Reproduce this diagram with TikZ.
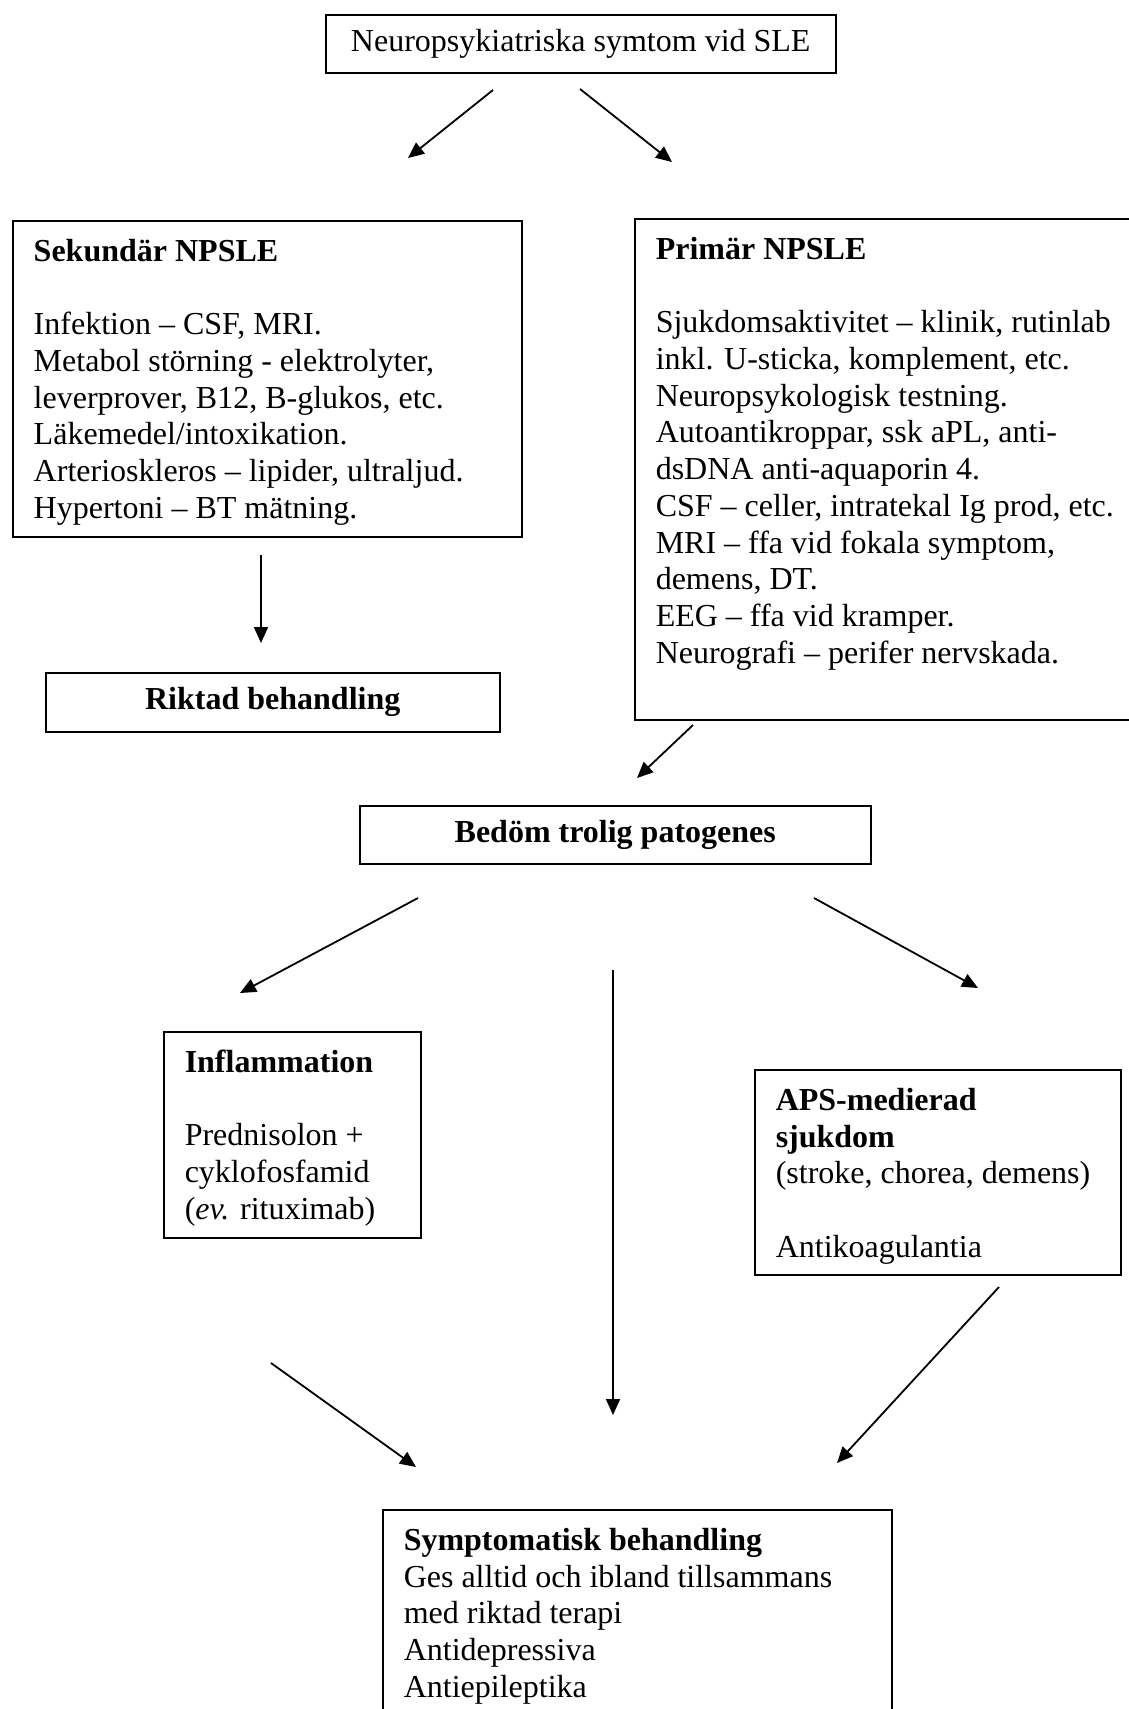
\documentclass[tikz,border=0pt]{standalone}
\usepackage{fontspec}
\setmainfont{Liberation Serif}
\usetikzlibrary{arrows.meta}
\newcommand{\boxtxt}[3]{\parbox[t][#2][t]{#1}{\strut #3}}
\tikzset{
  box/.style ={draw,line width=0.75pt,anchor=north west,inner xsep=10.5pt,inner ysep=7.5pt,font=\fontsize{16pt}{18.35pt}\selectfont},
  cbox/.style={draw,line width=0.75pt,anchor=north west,inner sep=0pt,font=\fontsize{16pt}{18.35pt}\selectfont},
  ar/.style  ={-{Triangle[length=8pt,width=7pt]},line width=0.9pt},
}
\begin{document}
\begin{tikzpicture}[x=0.5pt,y=-0.5pt]
\useasboundingbox (0,0) rectangle (1129,1709);
% boxes
\node[cbox,minimum width=255pt,minimum height=29pt] (top) at (325,14) {Neuropsykiatriska symtom vid SLE};
\node[box] (sek) at (12,220) {\boxtxt{233.5pt}{143pt}{\textbf{Sekundär NPSLE}\\[\baselineskip]
  Infektion – CSF, MRI.\\
  Metabol störning - elektrolyter,\\
  leverprover, B12, B-glukos, etc.\\
  Läkemedel/intoxikation.\\
  Arterioskleros – lipider, ultraljud.\\
  Hypertoni – BT mätning.}};
\node[box] (prim) at (634,218) {\boxtxt{242pt}{235.5pt}{\textbf{Primär NPSLE}\\[\baselineskip]
  Sjukdomsaktivitet – klinik, rutinlab\\
  inkl. U-sticka, komplement, etc.\\
  Neuropsykologisk testning.\\
  Autoantikroppar, ssk aPL, anti-\\
  dsDNA anti-aquaporin 4.\\
  CSF – celler, intratekal Ig prod, etc.\\
  MRI – ffa vid fokala symptom,\\
  demens, DT.\\
  EEG – ffa vid kramper.\\
  Neurografi – perifer nervskada.}};
\node[cbox,minimum width=227pt,minimum height=29.5pt] (rikt) at (45,672) {\textbf{Riktad behandling}};
\node[cbox,minimum width=255.5pt,minimum height=29pt] (bedom) at (359,805) {\textbf{Bedöm trolig patogenes}};
\node[box] (infl) at (163,1031) {\boxtxt{107.5pt}{88pt}{\textbf{Inflammation}\\[\baselineskip]
  Prednisolon +\\
  cyklofosfamid\\
  (\textit{ev.} rituximab)}};
\node[box] (aps) at (754,1069) {\boxtxt{162pt}{87.5pt}{\textbf{APS-medierad}\\
  \textbf{sjukdom}\\
  (stroke, chorea, demens)\\[\baselineskip]
  Antikoagulantia}};
\node[box] (sympt) at (382,1509) {\boxtxt{233.5pt}{135pt}{\textbf{Symptomatisk behandling}\\
  Ges alltid och ibland tillsammans\\
  med riktad terapi\\
  Antidepressiva\\
  Antiepileptika}};
% arrow ends
\coordinate (t1) at (493,90);   \coordinate (t2) at (408,158);
\coordinate (t3) at (580,89);   \coordinate (t4) at (672,162);
\coordinate (s1) at (261,555);  \coordinate (s2) at (261,643);
\coordinate (p1) at (693,725);  \coordinate (p2) at (637,778);
\coordinate (b1) at (418,898);  \coordinate (b2) at (240,993);
\coordinate (b3) at (814,898);  \coordinate (b4) at (978,988);
\coordinate (b5) at (613,970);  \coordinate (b6) at (613,1415);
\coordinate (i1) at (271,1363); \coordinate (i2) at (416,1467);
\coordinate (q1) at (999,1287); \coordinate (q2) at (837,1463);
% arrows
\draw[ar] (t1)--(t2); \draw[ar] (t3)--(t4);
\draw[ar] (s1)--(s2); \draw[ar] (p1)--(p2);
\draw[ar] (b1)--(b2); \draw[ar] (b3)--(b4); \draw[ar] (b5)--(b6);
\draw[ar] (i1)--(i2); \draw[ar] (q1)--(q2);
\end{tikzpicture}
\end{document}
